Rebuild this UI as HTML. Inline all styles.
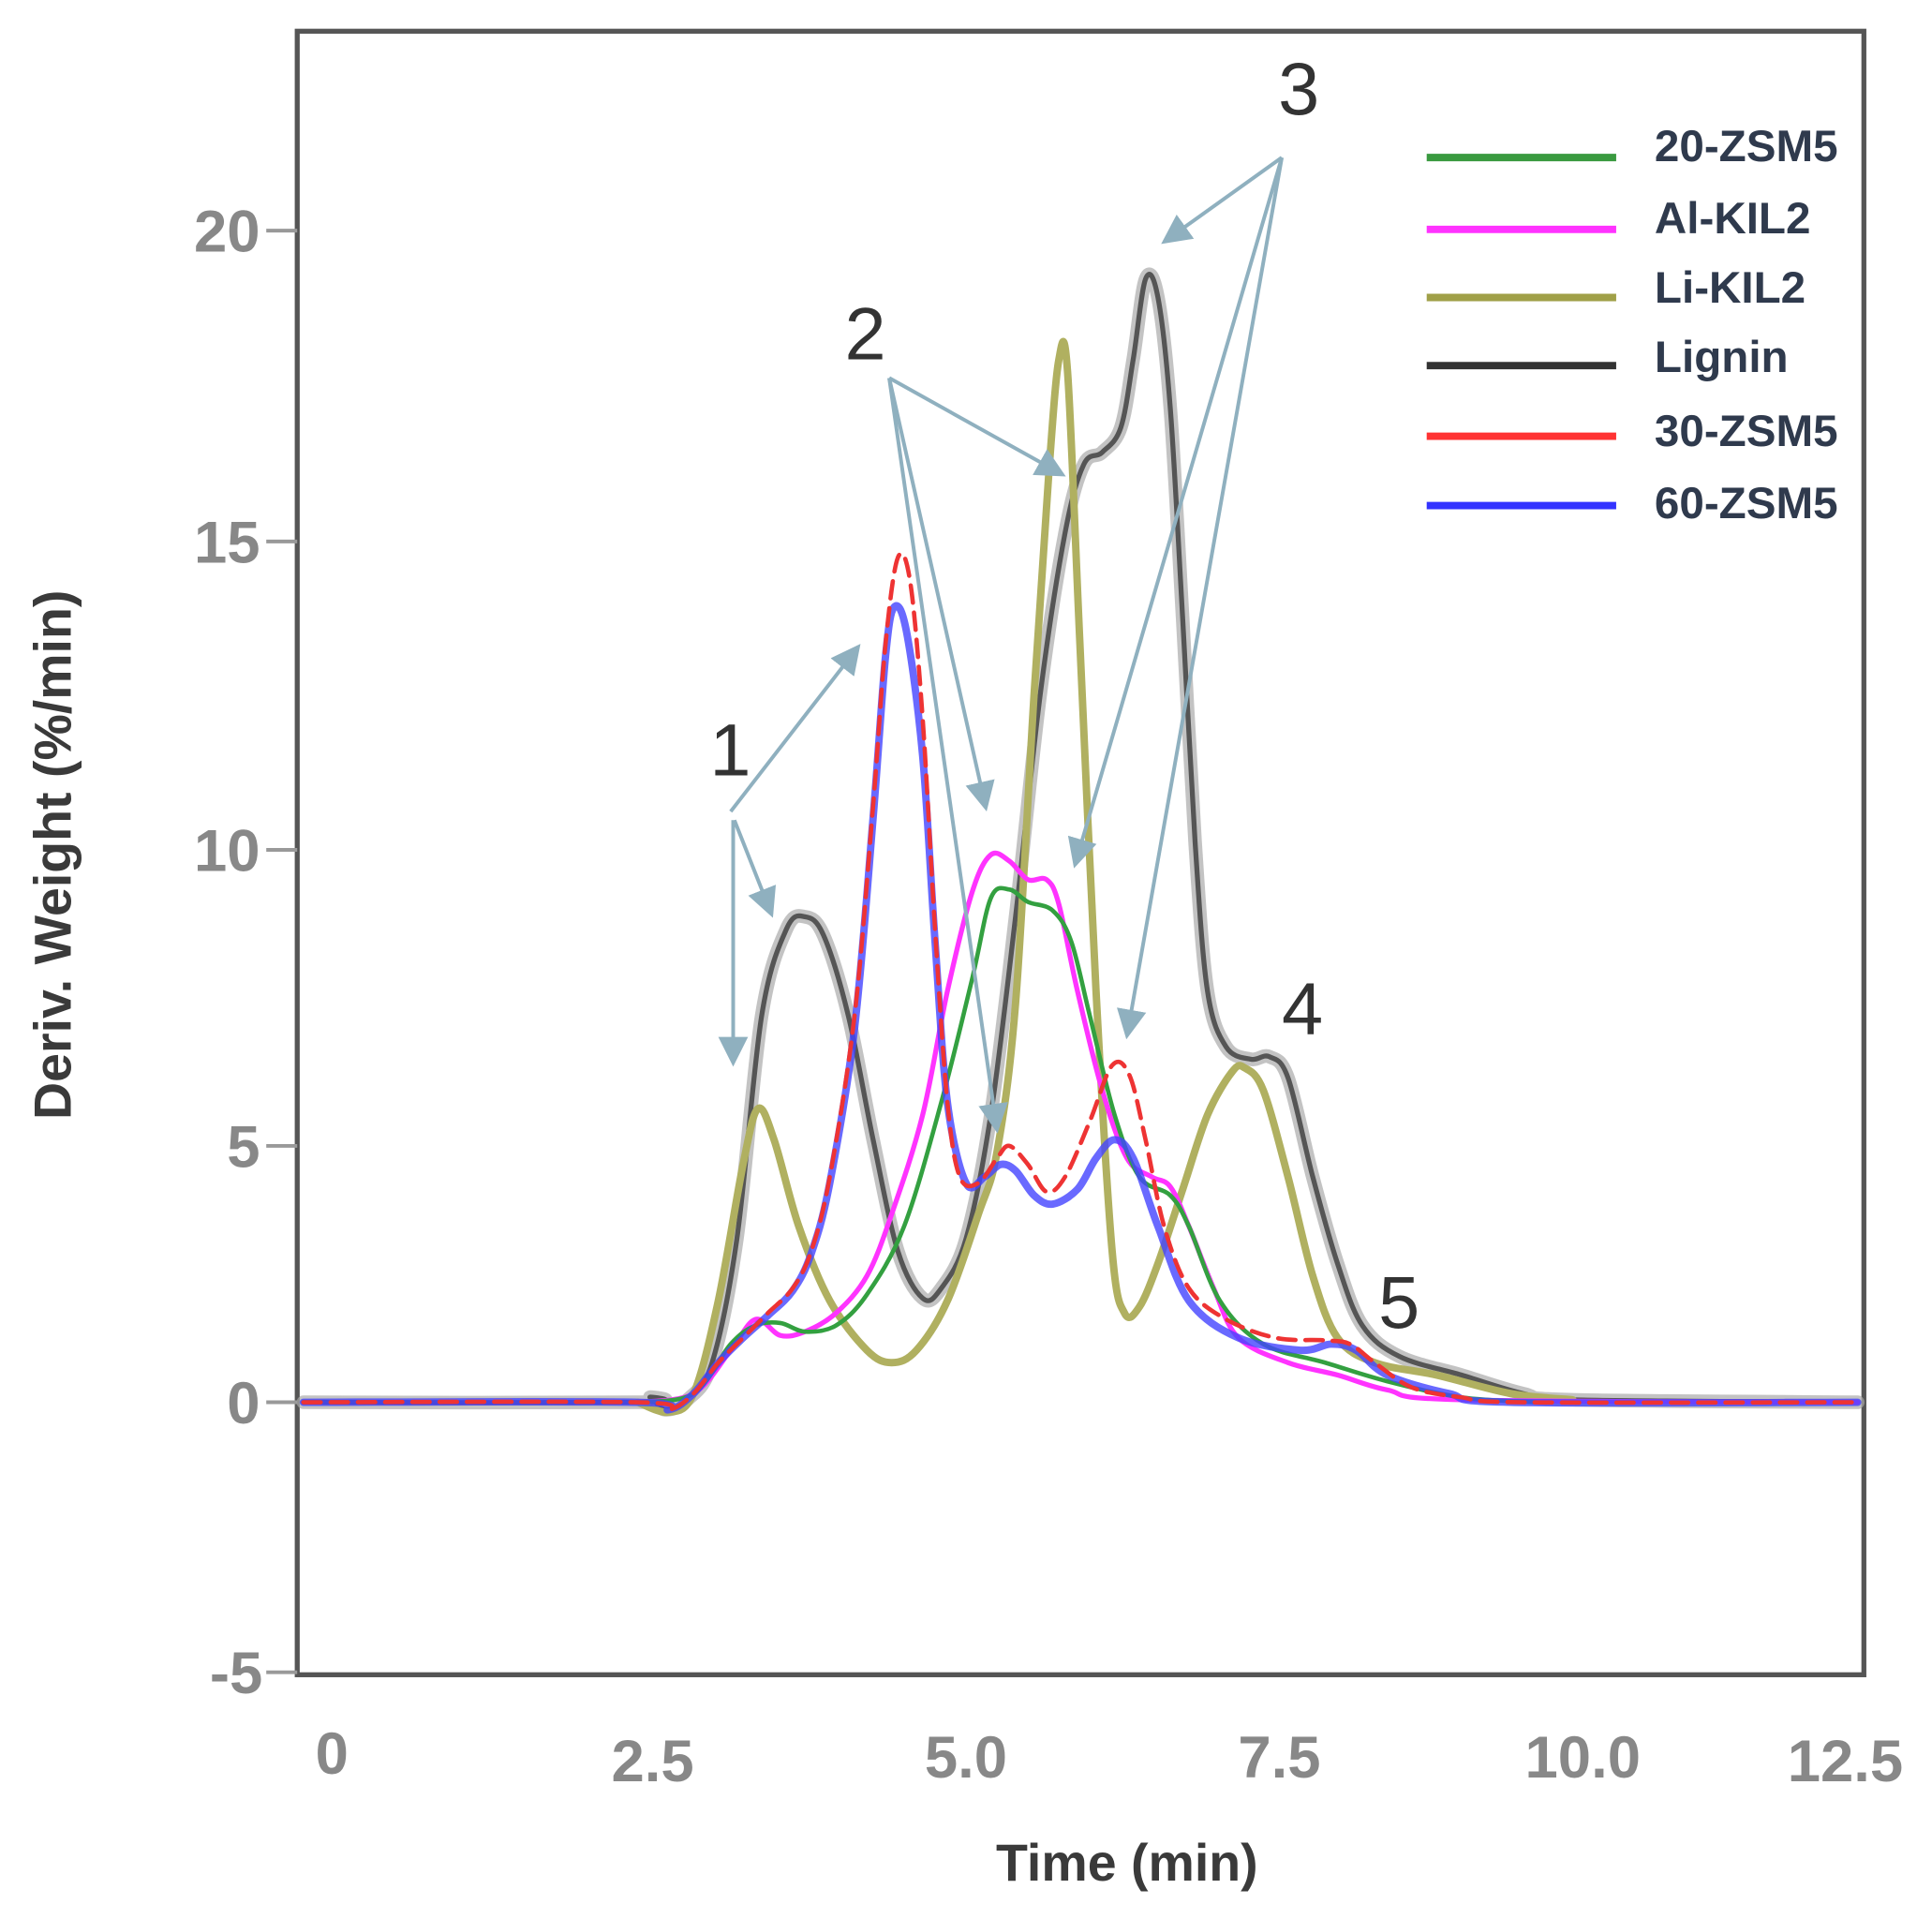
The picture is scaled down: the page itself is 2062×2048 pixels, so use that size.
<!DOCTYPE html>
<html><head><meta charset="utf-8"><style>
html,body{margin:0;padding:0;background:#fff;}
svg{display:block;}
</style></head><body>
<svg id="s" width="2062" height="2048" viewBox="0 0 1560 1549" xmlns="http://www.w3.org/2000/svg" font-family="Liberation Sans, sans-serif">
<rect width="1560" height="1549" fill="#fff"/>
<rect x="240" y="25" width="1265" height="1327" fill="none" stroke="#555" stroke-width="4"/>
<g stroke="#999" stroke-width="3">
<line x1="215" y1="186" x2="240" y2="186"/><line x1="215" y1="437" x2="240" y2="437"/>
<line x1="215" y1="686" x2="240" y2="686"/><line x1="215" y1="925" x2="240" y2="925"/>
<line x1="215" y1="1132" x2="240" y2="1132"/><line x1="215" y1="1350" x2="240" y2="1350"/>
</g>
<g fill="#888" font-weight="bold" font-size="48" text-anchor="end">
<text x="210" y="203">20</text><text x="210" y="454">15</text><text x="210" y="703">10</text>
<text x="210" y="942">5</text><text x="210" y="1149">0</text><text x="212" y="1367">-5</text>
</g>
<g fill="#888" font-weight="bold" font-size="48" text-anchor="middle">
<text x="268" y="1432">0</text><text x="527" y="1438">2.5</text><text x="780" y="1435">5.0</text>
<text x="1033" y="1435">7.5</text><text x="1278" y="1435">10.0</text><text x="1490" y="1438">12.5</text>
</g>
<text x="910" y="1518" fill="#3a3a3a" font-weight="bold" font-size="42" text-anchor="middle">Time (min)</text>
<text transform="translate(57,690) rotate(-90)" fill="#3a3a3a" font-weight="bold" font-size="42" text-anchor="middle">Deriv. Weight (%/min)</text>

<g fill="none" stroke-linejoin="round" stroke-linecap="round">
<polyline class="c" stroke="#aaa" stroke-width="11" opacity="0.7" points="245,1132 515,1132 525,1128 537,1138 555,1130 575,1100 595,1000 615,820 635,750 650,740 665,755 685,820 705,920 725,1010 745,1048 760,1040 780,1000 800,900 820,740 840,560 860,430 875,375 890,365 905,345 915,290 925,225 935,240 945,330 955,500 965,680 975,800 990,845 1010,855 1025,853 1040,870 1060,950 1080,1020 1100,1070 1130,1095 1180,1110 1230,1125 1270,1130 1500,1132"/>
<polyline class="c" stroke="#555" stroke-width="4" points="245,1132 515,1132 525,1128 537,1138 555,1130 575,1100 595,1000 615,820 635,750 650,740 665,755 685,820 705,920 725,1010 745,1048 760,1040 780,1000 800,900 820,740 840,560 860,430 875,375 890,365 905,345 915,290 925,225 935,240 945,330 955,500 965,680 975,800 990,845 1010,855 1025,853 1040,870 1060,950 1080,1020 1100,1070 1130,1095 1180,1110 1230,1125 1270,1130 1500,1132"/>
<polyline class="c" stroke="#b0b060" stroke-width="6" points="515,1132 540,1140 560,1125 580,1050 600,940 612,895 625,920 645,990 670,1050 700,1090 720,1100 740,1090 765,1050 790,980 805,930 820,810 835,560 847,380 855,290 862,300 872,520 885,800 898,1010 908,1060 920,1055 935,1020 955,960 975,900 995,865 1005,862 1020,880 1040,950 1060,1030 1080,1080 1110,1100 1160,1110 1220,1125 1270,1130"/>
<polyline class="c" stroke="#ff33ff" stroke-width="4" points="515,1132 560,1125 590,1090 610,1065 630,1078 650,1075 675,1060 700,1030 720,980 745,900 765,800 785,720 800,690 815,695 830,710 845,710 855,730 870,800 890,880 910,935 930,950 945,958 960,990 980,1040 1000,1080 1040,1100 1080,1110 1120,1122 1180,1130 1500,1132"/>
<polyline class="c" stroke="#33a040" stroke-width="3.5" points="515,1132 560,1125 590,1085 610,1070 630,1068 650,1075 675,1070 700,1045 730,990 760,890 785,790 800,725 815,718 830,728 850,735 865,760 880,820 900,900 920,950 945,965 960,990 985,1050 1020,1085 1070,1100 1120,1115 1180,1128 1240,1132"/>
<polyline class="c" stroke="#4444ff" stroke-width="6" opacity="0.8" points="245,1132 515,1132 540,1138 560,1125 580,1100 600,1080 620,1062 640,1042 655,1012 670,955 690,830 705,660 715,530 722,490 732,510 745,610 755,760 765,890 780,955 795,950 808,940 820,945 835,965 850,972 870,960 885,935 900,920 915,935 935,990 960,1050 1000,1080 1050,1090 1075,1085 1095,1090 1120,1110 1170,1125 1220,1132 1500,1132"/>
<polyline class="c" stroke="#ee3333" stroke-width="3.5" stroke-dasharray="14 8" points="245,1132 515,1132 540,1138 560,1125 580,1100 600,1080 620,1060 640,1040 655,1010 670,950 690,820 705,650 715,520 725,450 735,470 745,580 755,750 765,890 775,950 790,955 805,935 815,925 830,940 845,962 860,950 880,905 898,860 912,868 925,920 940,990 960,1040 990,1065 1030,1080 1070,1082 1090,1085 1110,1100 1140,1120 1180,1128 1230,1132 1500,1132"/>
</g>

<defs><marker id="ah" markerWidth="8" markerHeight="8" refX="7" refY="4" orient="auto" markerUnits="strokeWidth"><path d="M0,0 L8,4 L0,8 z" fill="#8fb0bf"/></marker></defs>
<g stroke="#8fb0bf" stroke-width="3" marker-end="url(#ah)">
<line x1="590" y1="655" x2="693" y2="522"/><line x1="593" y1="662" x2="623" y2="738"/><line x1="592" y1="662" x2="592" y2="858"/>
<line x1="718" y1="305" x2="858" y2="383"/><line x1="718" y1="305" x2="796" y2="652"/><line x1="718" y1="305" x2="805" y2="912"/>
<line x1="1035" y1="127" x2="940" y2="195"/><line x1="1035" y1="127" x2="868" y2="698"/><line x1="1035" y1="127" x2="910" y2="836"/>
</g>
<g fill="#333" font-size="60">
<text x="573" y="626">1</text><text x="682" y="290">2</text><text x="1032" y="92">3</text>
<text x="1035" y="835">4</text><text x="1113" y="1072">5</text>
</g>

<g stroke-width="6">
<line x1="1152" y1="127" x2="1305" y2="127" stroke="#3a9a40"/>
<line x1="1152" y1="185" x2="1305" y2="185" stroke="#ff33ff"/>
<line x1="1152" y1="240" x2="1305" y2="240" stroke="#a0a048"/>
<line x1="1152" y1="295" x2="1305" y2="295" stroke="#333"/>
<line x1="1152" y1="352" x2="1305" y2="352" stroke="#ff3333"/>
<line x1="1152" y1="408" x2="1305" y2="408" stroke="#3333ff"/>
</g>
<g fill="#2f3a4d" font-weight="bold" font-size="36">
<text x="1336" y="130">20-ZSM5</text><text x="1336" y="188">Al-KIL2</text><text x="1336" y="244">Li-KIL2</text>
<text x="1336" y="300">Lignin</text><text x="1336" y="360">30-ZSM5</text><text x="1336" y="418">60-ZSM5</text>
</g>
</svg>
<script>
document.querySelectorAll('polyline.c').forEach(function(pl){
  var p=pl.getAttribute('points').trim().split(/\s+/).map(function(s){return s.split(',').map(Number);});
  var d='M'+p[0][0]+','+p[0][1];
  for(var i=0;i<p.length-1;i++){
    var p0=p[i-1]||p[i],p1=p[i],p2=p[i+1],p3=p[i+2]||p2;
    var c1x=p1[0]+(p2[0]-p0[0])/6,c1y=p1[1]+(p2[1]-p0[1])/6;
    var c2x=p2[0]-(p3[0]-p1[0])/6,c2y=p2[1]-(p3[1]-p1[1])/6;
    d+=' C'+c1x+','+c1y+' '+c2x+','+c2y+' '+p2[0]+','+p2[1];
  }
  var path=document.createElementNS('http://www.w3.org/2000/svg','path');
  for(var j=0;j<pl.attributes.length;j++){var a=pl.attributes[j];if(a.name!=='points'&&a.name!=='class')path.setAttribute(a.name,a.value);}
  path.setAttribute('d',d);
  pl.parentNode.replaceChild(path,pl);
});
</script>
</body></html>
